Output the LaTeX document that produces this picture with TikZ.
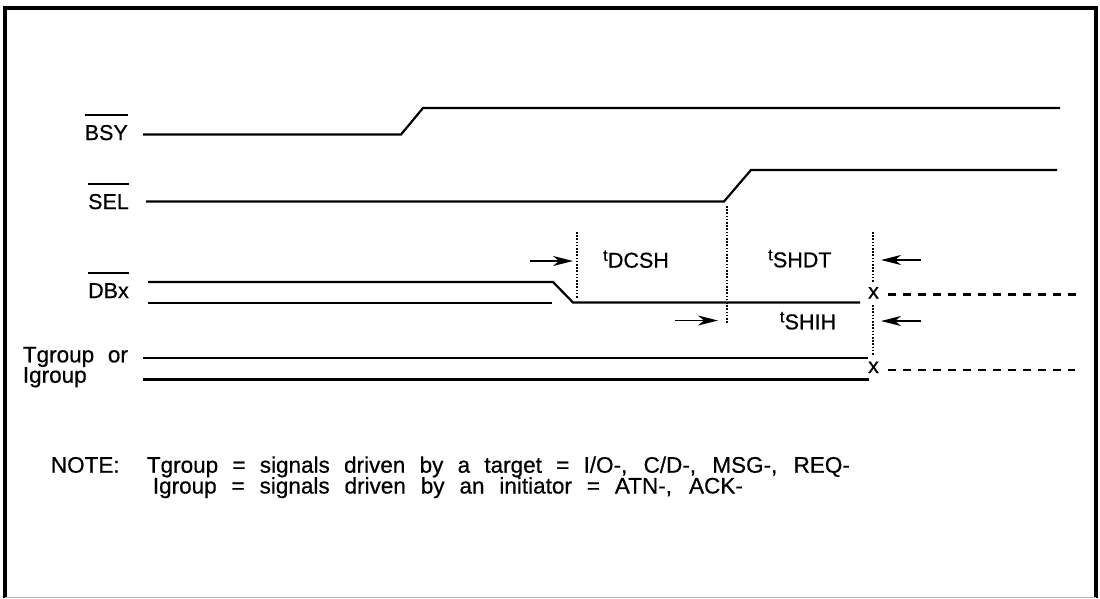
\documentclass[tikz,border=0pt]{standalone}
\usepackage{fontspec}
\setmainfont{Liberation Sans}[FakeBold=0.6]
\usetikzlibrary{arrows.meta}
\newcommand\tlab[1]{\raisebox{7pt}{\fontsize{16}{18}\selectfont t}\kern0.3pt #1}
\tikzset{
  sig/.style={line width=2.2pt},
  frm/.style={line width=3.2pt},
  dotv/.style={line width=1.2pt, dash pattern=on 1.6pt off 1.6pt},
  dashx/.style={line width=2.6pt, dash pattern=on 7.5pt off 7.5pt},
  tarr/.style={line width=1.6pt, -{Stealth[length=20pt,width=10pt,inset=6pt]}},
  lbl/.style={inner sep=0pt, font=\fontsize{21.5}{25}\selectfont},
  notefont/.style={inner sep=0pt, font=\fontsize{22.5}{26}\selectfont},
  ovl/.style={line width=1.8pt},
}
\begin{document}
\begin{tikzpicture}[x=1pt,y=-1pt]
\useasboundingbox (0,0) rectangle (1100,598);
% frame
\draw[frm] (5,598) -- (5,8) -- (1096,8) -- (1096,598);
\draw[line width=1pt, gray!55] (5,597) -- (1096,597);

% signal labels
\node[lbl, anchor=base east] (bsy) at (128,140) {BSY};
\draw[ovl] ([yshift=10pt]bsy.north west) -- ([yshift=10pt]bsy.north east);
\node[lbl, anchor=base east] (sel) at (129,209) {SEL};
\draw[ovl] ([yshift=10pt]sel.north west) -- ([yshift=10pt]sel.north east);
\node[lbl, anchor=base east] (dbx) at (129,298) {DBx};
\draw[ovl] ([yshift=10pt]dbx.north west) -- ([yshift=10pt]dbx.north east);
\node[notefont, anchor=base west] (tg) at (22.7,362.3) {\makebox[105pt][s]{Tgroup or}};
\node[notefont, anchor=base west] (ig) at (22.7,382.7) {Igroup};

% waveforms
\draw[sig] (143,134.5) -- (401,134.5) -- (423,108) -- (1060,108);
\draw[sig] (146,201.5) -- (724,201.5) -- (751,170) -- (1057,170);
\draw[sig] (148,282) -- (553,282) -- (573,302.5) -- (860,302.5);
\draw[sig] (148,303) -- (552,303);
\draw[sig] (143,358) -- (868,358);
\draw[sig] (143,379.5) -- (869,379.5);

% x marks and undefined states
\node[lbl, anchor=base] (x1) at (873.5,298.5) {x};
\node[lbl, anchor=base] (x2) at (873.5,373) {x};
\draw[dashx] (888,294.5) -- (1077,294.5);
\draw[dashx] (888,370) -- (1075,370);

% dotted reference lines
\draw[dotv] (577,232) -- (577,298);
\draw[dotv] (727,206) -- (727,323);
\draw[dotv] (873,232) -- (873,282);
\draw[dotv] (873,305) -- (873,355);

% arrows
\draw[tarr] (530,261) -- (573,261);
\draw[tarr] (675,320.5) -- (718,320.5);
\draw[tarr] (921,260) -- (881,260);
\draw[tarr] (921,321) -- (881,321);

% timing labels
\node[lbl, anchor=base west] (tdcsh) at (603,267.7) {\tlab{DCSH}};
\node[lbl, anchor=base west] (tshdt) at (768,267.3) {\tlab{SHDT}};
\node[lbl, anchor=base west] (tshih) at (779.7,329.3) {\tlab{SHIH}};

% note
\node[notefont, anchor=base west] (note) at (50.7,472.7) {NOTE:};
\node[notefont, anchor=base west] (n1) at (146.7,472.7) {\makebox[703pt][s]{Tgroup = signals driven by a target = I/O-, C/D-, MSG-, REQ-}};
\node[notefont, anchor=base west] (n2) at (152.7,493.5) {\makebox[590pt][s]{Igroup = signals driven by an initiator = ATN-, ACK-}};
\end{tikzpicture}
\end{document}
